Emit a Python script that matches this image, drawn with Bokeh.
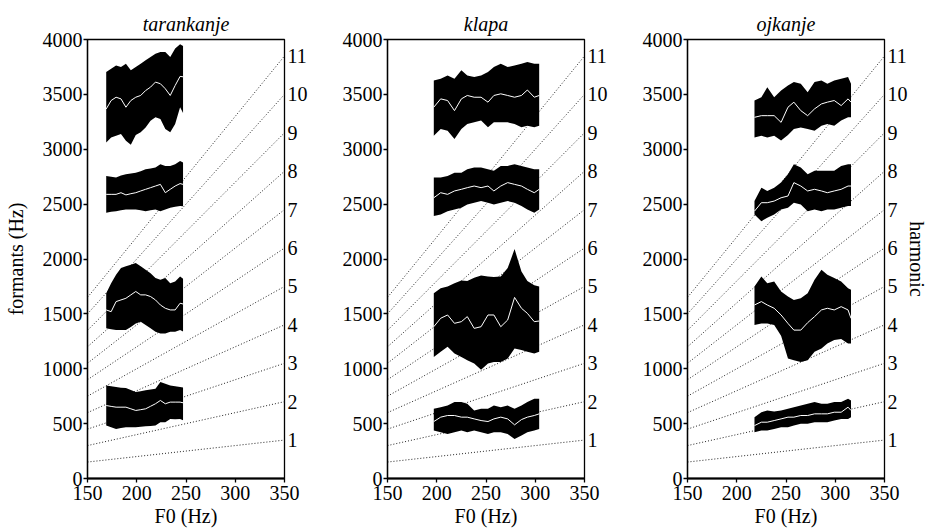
import math
from bokeh.plotting import figure
from bokeh.layouts import row
from bokeh.models import FixedTicker, LinearAxis, Range1d
from bokeh.embed import file_html
from bokeh.resources import INLINE

FONT = "'Liberation Serif', 'Times New Roman', serif"

# ---------------- data ----------------
titles = ["tarankanje", "klapa", "ojkanje"]
harmonics = [1, 2, 3, 4, 5, 6, 7, 8, 9, 10, 11]
f0_limits = [150, 350]
y_ticks = [0, 500, 1000, 1500, 2000, 2500, 3000, 3500, 4000]
x_ticks = [150, 200, 250, 300, 350]

# tarankanje
tar_f0 = [169, 174, 179, 184, 189, 194, 199, 204, 209, 214, 219, 224, 229, 234, 239, 244, 247]
tar_f1_hi = [848, 840, 833, 828, 824, 806, 788, 795, 803, 810, 818, 879, 864, 848, 840, 833, 830]
tar_f1_lo = [482, 467, 452, 460, 467, 467, 467, 472, 476, 479, 482, 513, 513, 543, 540, 543, 530]
tar_f1_mid = [665, 657, 650, 650, 650, 635, 620, 627, 635, 658, 681, 711, 681, 696, 696, 696, 690]
tar_f2_hi = [1688, 1780, 1856, 1917, 1933, 1948, 1963, 1933, 1902, 1871, 1826, 1810, 1826, 1780, 1795, 1841, 1820]
tar_f2_lo = [1368, 1360, 1352, 1352, 1352, 1380, 1413, 1429, 1398, 1368, 1337, 1322, 1322, 1337, 1337, 1352, 1340]
tar_f2_mid = [1536, 1520, 1612, 1627, 1642, 1673, 1704, 1673, 1673, 1658, 1627, 1581, 1551, 1536, 1536, 1597, 1590]
tar_f3_hi = [2757, 2750, 2742, 2760, 2772, 2780, 2787, 2800, 2818, 2825, 2833, 2864, 2848, 2848, 2864, 2894, 2880]
tar_f3_lo = [2421, 2430, 2436, 2445, 2452, 2452, 2452, 2445, 2436, 2445, 2452, 2436, 2452, 2467, 2475, 2482, 2480]
tar_f3_mid = [2589, 2589, 2589, 2604, 2584, 2595, 2604, 2620, 2635, 2650, 2665, 2680, 2604, 2635, 2665, 2687, 2680]
tar_f4_hi = [3703, 3734, 3764, 3749, 3780, 3719, 3749, 3780, 3810, 3841, 3871, 3886, 3886, 3841, 3917, 3957, 3940]
tar_f4_lo = [3062, 3108, 3123, 3138, 3077, 3040, 3130, 3154, 3199, 3260, 3291, 3276, 3184, 3154, 3230, 3383, 3330]
tar_f4_mid = [3367, 3444, 3474, 3459, 3383, 3444, 3474, 3490, 3535, 3566, 3612, 3597, 3551, 3490, 3581, 3664, 3660]

# klapa
kla_f0 = [197, 204, 211, 218, 225, 231, 238, 245, 252, 258, 265, 272, 279, 286, 292, 299, 304]
kla_f1_hi = [635, 650, 665, 696, 696, 681, 620, 635, 635, 665, 650, 665, 635, 665, 696, 726, 726]
kla_f1_lo = [437, 421, 406, 421, 437, 421, 437, 421, 406, 421, 421, 406, 360, 391, 421, 437, 452]
kla_f1_mid = [519, 559, 574, 574, 559, 559, 543, 528, 519, 543, 559, 543, 489, 537, 559, 574, 589]
kla_f2_hi = [1688, 1734, 1749, 1780, 1805, 1800, 1830, 1850, 1840, 1835, 1840, 1917, 2090, 1887, 1800, 1760, 1749]
kla_f2_lo = [1108, 1154, 1200, 1140, 1108, 1078, 1047, 990, 1047, 1062, 1062, 1093, 1185, 1170, 1154, 1139, 1154]
kla_f2_mid = [1383, 1460, 1490, 1414, 1429, 1475, 1368, 1383, 1490, 1490, 1383, 1444, 1650, 1551, 1505, 1429, 1435]
kla_f3_hi = [2742, 2742, 2757, 2787, 2787, 2818, 2833, 2833, 2818, 2803, 2848, 2848, 2864, 2848, 2833, 2818, 2818]
kla_f3_lo = [2391, 2406, 2436, 2452, 2467, 2497, 2513, 2528, 2513, 2497, 2513, 2528, 2513, 2482, 2452, 2421, 2452]
kla_f3_mid = [2558, 2604, 2589, 2620, 2635, 2650, 2665, 2650, 2665, 2620, 2665, 2696, 2680, 2665, 2635, 2604, 2635]
kla_f4_hi = [3627, 3642, 3673, 3642, 3719, 3673, 3658, 3673, 3703, 3749, 3780, 3749, 3764, 3780, 3795, 3780, 3780]
kla_f4_lo = [3123, 3184, 3169, 3093, 3184, 3230, 3245, 3261, 3200, 3245, 3245, 3245, 3230, 3200, 3215, 3200, 3215]
kla_f4_mid = [3383, 3459, 3444, 3352, 3459, 3490, 3474, 3474, 3429, 3490, 3505, 3490, 3474, 3490, 3540, 3474, 3490]

# ojkanje
ojk_f0 = [218, 225, 231, 238, 245, 252, 258, 265, 272, 279, 286, 292, 299, 306, 313, 316]
ojk_f1_hi = [559, 604, 620, 610, 620, 635, 650, 665, 681, 696, 681, 681, 696, 696, 726, 710]
ojk_f1_lo = [421, 437, 437, 452, 467, 467, 482, 498, 498, 513, 513, 513, 528, 543, 543, 559]
ojk_f1_mid = [482, 513, 513, 528, 543, 559, 559, 574, 574, 589, 589, 589, 604, 604, 650, 620]
ojk_f2_hi = [1749, 1841, 1780, 1795, 1704, 1658, 1627, 1642, 1688, 1810, 1902, 1856, 1826, 1795, 1734, 1720]
ojk_f2_lo = [1398, 1413, 1413, 1398, 1300, 1093, 1078, 1062, 1078, 1154, 1185, 1230, 1261, 1270, 1230, 1230]
ojk_f2_mid = [1581, 1612, 1581, 1551, 1490, 1413, 1352, 1352, 1420, 1475, 1536, 1551, 1536, 1566, 1536, 1459]
ojk_f3_hi = [2528, 2650, 2620, 2650, 2696, 2772, 2864, 2833, 2772, 2803, 2803, 2803, 2803, 2848, 2864, 2864]
ojk_f3_lo = [2406, 2345, 2375, 2406, 2452, 2467, 2513, 2497, 2436, 2452, 2436, 2452, 2452, 2467, 2482, 2482]
ojk_f3_mid = [2436, 2513, 2513, 2528, 2558, 2574, 2696, 2665, 2620, 2635, 2620, 2604, 2620, 2635, 2665, 2665]
ojk_f4_hi = [3444, 3474, 3566, 3474, 3535, 3581, 3612, 3597, 3520, 3612, 3627, 3597, 3627, 3642, 3658, 3597]
ojk_f4_lo = [3108, 3123, 3108, 3123, 3080, 3130, 3184, 3199, 3184, 3169, 3215, 3230, 3215, 3261, 3291, 3291]
ojk_f4_mid = [3291, 3306, 3306, 3306, 3245, 3383, 3429, 3352, 3306, 3368, 3413, 3429, 3444, 3398, 3459, 3429]

panels = [
    (tar_f0, [(tar_f1_lo, tar_f1_hi, tar_f1_mid), (tar_f2_lo, tar_f2_hi, tar_f2_mid),
              (tar_f3_lo, tar_f3_hi, tar_f3_mid), (tar_f4_lo, tar_f4_hi, tar_f4_mid)]),
    (kla_f0, [(kla_f1_lo, kla_f1_hi, kla_f1_mid), (kla_f2_lo, kla_f2_hi, kla_f2_mid),
              (kla_f3_lo, kla_f3_hi, kla_f3_mid), (kla_f4_lo, kla_f4_hi, kla_f4_mid)]),
    (ojk_f0, [(ojk_f1_lo, ojk_f1_hi, ojk_f1_mid), (ojk_f2_lo, ojk_f2_hi, ojk_f2_mid),
              (ojk_f3_lo, ojk_f3_hi, ojk_f3_mid), (ojk_f4_lo, ojk_f4_hi, ojk_f4_mid)]),
]

# ---------------- layout ----------------
FRAME_W = 197
HEIGHT = 529
borders = [(87, 40), (63, 40), (63, 47)]


def make_panel(i):
    f0, bands = panels[i]
    lb, rb = borders[i]
    p = figure(width=lb + FRAME_W + rb, height=HEIGHT,
               x_range=Range1d(f0_limits[0], f0_limits[1]), y_range=Range1d(0, 4000),
               output_backend="svg", toolbar_location=None,
               min_border_left=lb, min_border_right=rb,
               min_border_top=39, min_border_bottom=0)
    p.background_fill_color = "white"
    p.border_fill_color = "white"
    p.outline_line_color = "black"
    p.outline_line_width = 1.3
    p.xgrid.visible = False
    p.ygrid.visible = False

    p.title.text = titles[i]
    p.title.align = "center"
    p.title.text_font = FONT
    p.title.text_font_style = "italic"
    p.title.text_font_size = "20px"
    p.title.text_color = "black"
    p.title.standoff = 10

    # harmonic lines
    for n in harmonics:
        p.line(f0_limits, [n * f for f in f0_limits], line_color="#222222",
               line_width=1, line_dash="1 2")

    # formant bands
    for lo, hi, mid in bands:
        p.varea(x=f0, y1=lo, y2=hi, fill_color="black")
        p.line(f0, mid, line_color="white", line_width=1)

    for ax in (p.xaxis[0], p.yaxis[0]):
        ax.axis_line_color = "black"
        ax.major_tick_line_color = "black"
        ax.major_tick_line_width = 1.3
        ax.major_tick_out = 4
        ax.major_tick_in = 0
        ax.minor_tick_line_color = None
        ax.major_label_text_font = FONT
        ax.major_label_text_font_size = "20px"
        ax.major_label_text_color = "black"
        ax.axis_label_text_font = FONT
        ax.axis_label_text_font_size = "20px"
        ax.axis_label_text_font_style = "normal"
        ax.axis_label_text_color = "black"

    p.xaxis.axis_line_width = 2
    p.yaxis.axis_line_width = 1.3
    p.xaxis.ticker = FixedTicker(ticks=x_ticks)
    p.xaxis.major_label_standoff = 3
    p.xaxis.axis_label = "F0 (Hz)"
    p.xaxis.axis_label_standoff = 2

    p.yaxis.ticker = FixedTicker(ticks=y_ticks)
    p.yaxis.major_label_standoff = 1
    if i == 0:
        p.yaxis.axis_label = "formants (Hz)"
        p.yaxis.axis_label_standoff = 13

    htick = [n * f0_limits[1] for n in harmonics]
    rax = LinearAxis(ticker=FixedTicker(ticks=htick),
                     major_label_overrides={t: str(n) for t, n in zip(htick, harmonics)},
                     axis_line_color=None, major_tick_line_color=None,
                     minor_tick_line_color=None, major_tick_out=0, major_tick_in=0,
                     major_label_standoff=3, major_label_text_font=FONT,
                     major_label_text_font_size="20px", major_label_text_color="black")
    if i == 2:
        rax.axis_label = "harmonic"
        rax.axis_label_standoff = -5
        rax.axis_label_text_font = FONT
        rax.axis_label_text_font_size = "20px"
        rax.axis_label_text_font_style = "normal"
        rax.axis_label_text_color = "black"
    p.add_layout(rax, "right")
    return p


figs = [make_panel(i) for i in range(3)]
layout = row(*figs, spacing=0)
open("out.html", "w").write(file_html(layout, INLINE))
